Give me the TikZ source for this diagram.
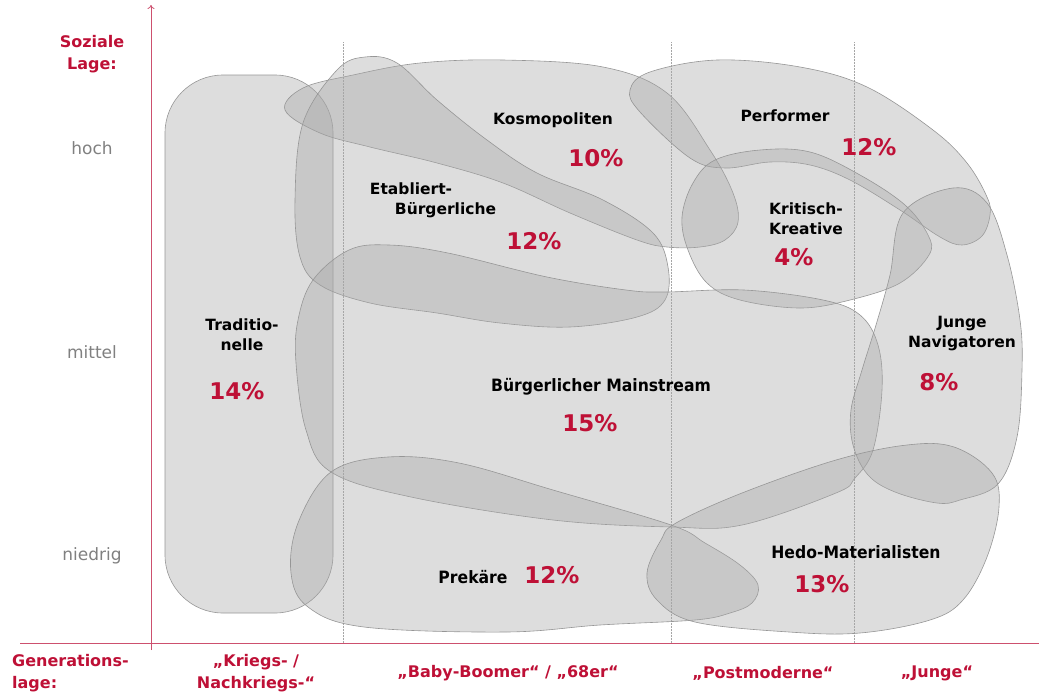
\documentclass[tikz,border=0pt]{standalone}
\usepackage{fontspec}
\setmainfont{DejaVu Sans}
\newfontfamily\narrowsans[FakeStretch=0.92]{DejaVu Sans}
\usepackage{tikz}
\usetikzlibrary{arrows.meta}
\definecolor{sinusred}{RGB}{190,16,54}
\definecolor{axisred}{RGB}{205,80,110}
\definecolor{blobfill}{RGB}{166,166,166}
\definecolor{blobedge}{RGB}{150,150,150}
\definecolor{lagegray}{RGB}{128,128,128}
\tikzset{every picture/.style = {x=1pt, y=-1pt}}
\tikzset{blob/.style = {fill=blobfill, fill opacity=0.38, draw=blobedge, line width=0.6pt}}
\tikzset{gen/.style = {gray!70, line width=0.5pt, densely dotted}}
\tikzset{axis/.style = {axisred, line width=0.8pt}}
\tikzset{milieu/.style = {font=\fontsize{15.5}{20}\selectfont\bfseries, align=center, inner sep=0}}
\tikzset{narrow/.style = {font=\fontsize{17}{20}\narrowsans\bfseries, inner sep=0}}
\tikzset{share/.style = {font=\fontsize{23}{26}\selectfont\bfseries, text=sinusred, inner sep=0}}
\tikzset{lage/.style = {font=\fontsize{17}{20}\selectfont, text=lagegray, inner sep=0}}
\tikzset{axislabel/.style = {font=\fontsize{16}{21.5}\selectfont\bfseries, text=sinusred, align=center, inner sep=0}}

\begin{document}
\begin{tikzpicture}
  \useasboundingbox (0,0) rectangle (1039,697);
  % generation borders
  \foreach \gx in {343, 671, 854}
    \draw[gen] (\gx,42) -- (\gx,643);
  % milieus
  \draw[blob, rounded corners=58] (165,75) rectangle (333,613);
  \draw[blob] plot[smooth cycle, tension=0.6] coordinates {(285,110) (303,88) (353,75) (420,63) (503,60) (603,67) (667,93) (710,150) (733,193) (738,222) (725,240) (700,247) (667,247) (637,240) (570,213) (503,183) (437,163) (370,147) (320,133)};
  \draw[blob] plot[smooth cycle, tension=0.6] coordinates {(337,70) (365,57) (397,63) (437,100) (487,140) (537,173) (603,200) (653,233) (668,267) (665,300) (637,317) (570,327) (500,323) (437,313) (370,303) (320,285) (300,257) (295,200) (303,123)};
  \draw[blob] plot[smooth cycle, tension=0.6] coordinates {(630,90) (650,72) (717,60) (800,67) (867,87) (933,130) (967,163) (987,197) (990,215) (982,236) (962,245) (940,237) (900,210) (850,180) (810,165) (770,162) (725,168) (690,158) (640,112)};
  \draw[blob] plot[smooth cycle, tension=0.6] coordinates {(715,160) (760,150) (810,152) (860,175) (905,205) (928,235) (929,255) (900,283) (850,300) (800,308) (740,300) (707,283) (688,250) (682,217) (693,183)};
  \draw[blob] plot[smooth cycle, tension=0.6] coordinates {(313,280) (349,250) (389,245) (448,253) (547,277) (626,290) (665,292) (744,290) (823,300) (860,315) (878,345) (882,390) (873,450) (855,478) (836,493) (742,525) (671,527) (553,520) (411,497) (331,472) (306,430) (296,363) (298,320)};
  \draw[blob] plot[smooth cycle, tension=0.6] coordinates {(953,188) (987,203) (1007,255) (1020,320) (1022,370) (1017,437) (998,484) (960,500) (937,503) (895,492) (868,475) (853,445) (851,410) (862,370) (876,325) (890,275) (903,213)};
  \draw[blob] plot[smooth cycle, tension=0.6] coordinates {(331,472) (388,457) (459,463) (553,490) (671,525) (705,543) (740,565) (758,585) (752,603) (730,613) (695,620) (600,625) (506,632) (364,627) (308,607) (291,573) (298,523)};
  \draw[blob] plot[smooth cycle, tension=0.6] coordinates {(676,523) (742,493) (836,460) (907,445) (954,447) (992,473) (999,507) (987,557) (963,600) (930,620) (860,633) (789,632) (695,622) (657,600) (647,573) (661,540)};
  % axes
  \draw[axis, -{To[length=4pt, width=7pt]}] (151,650) -- (151,5);
  \draw[axis] (20,643) -- (1039,643);
  % axis labels
  \node[axislabel] (soziale) at (92,54) {Soziale\\Lage:};
  \node[lage] (hoch) at (92,148) {hoch};
  \node[lage] (mittel) at (92,352) {mittel};
  \node[lage] (niedrig) at (92,556) {niedrig};
  \node[axislabel, align=left, anchor=west] (generation) at (12,673) {Generations-\\lage:};
  \node[axislabel] (krieg) at (256,673) {„Kriegs- /\\Nachkriegs-“};
  \node[axislabel] (boomer) at (508,673) {„Baby-Boomer“ / „68er“};
  \node[axislabel] (postmod) at (763,673) {„Postmoderne“};
  \node[axislabel] (jung) at (937,673) {„Junge“};
  % milieu labels
  \node[milieu] (trad) at (242,335) {Traditio-\\nelle};
  \node[share] (tradp) at (237,391) {14\%};
  \node[milieu] (kosmo) at (553,120) {Kosmopoliten};
  \node[share] (kosmop) at (596,158) {10\%};
  \node[milieu, align=left] (etab) at (433,200) {Etabliert-\\\hspace*{25pt}Bürgerliche};
  \node[share] (etabp) at (534,241) {12\%};
  \node[milieu] (perf) at (785,116) {Performer};
  \node[share] (perfp) at (869,147) {12\%};
  \node[milieu] (krit) at (806,219) {Kritisch-\\Kreative};
  \node[share] (kritp) at (794,257) {4\%};
  \node[narrow] (main) at (601,387) {Bürgerlicher Mainstream};
  \node[share] (mainp) at (590,423) {15\%};
  \node[milieu] (navi) at (962,334) {Junge\\Navigatoren};
  \node[share] (navip) at (939,382) {8\%};
  \node[narrow] (prek) at (473,577) {Prekäre};
  \node[share] (prekp) at (552,575) {12\%};
  \node[narrow] (hedo) at (856,552) {Hedo-Materialisten};
  \node[share] (hedop) at (822,584) {13\%};
\end{tikzpicture}
\end{document}
